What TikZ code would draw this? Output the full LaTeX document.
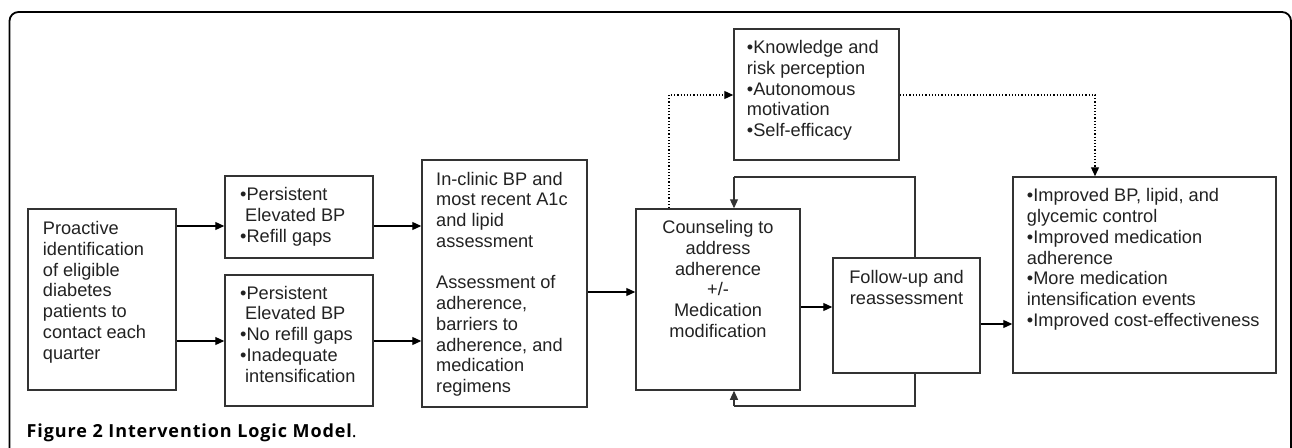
\documentclass[tikz,border=0pt]{standalone}
\usepackage{fontspec}
\setmainfont{Liberation Sans}
\newfontfamily\capfont{Open Sans}[LetterSpace=5]
\usetikzlibrary{arrows.meta}
\definecolor{boxline}{HTML}{333333}
\definecolor{txtcol}{HTML}{222222}
\begin{document}
\begin{tikzpicture}[x=1pt,y=-1pt,
  box/.style={draw=boxline,line width=1.5pt,inner sep=0pt,minimum width=#1},
  txt/.style={inner sep=0pt,text=txtcol,font=\fontsize{18.2}{20.75}\selectfont,align=left,anchor=north west},
  ctxt/.style={txt,align=center,anchor=north},
  arr/.style={draw=black,line width=1.2pt,-{Triangle[length=9pt,width=8pt]}},
  dotarr/.style={draw=black,line width=1.2pt,dotted,-{Triangle[length=9pt,width=8pt]}},
  fb/.style={draw=boxline,line width=1.5pt},
]
\useasboundingbox (0,0) rectangle (1292,447);
\clip (0,0) rectangle (1292,447);
\fill[white] (0,0) rectangle (1292,447);
% outer frame
\draw[black,line width=1.8pt,rounded corners=9pt] (9.5,470) -- (9.5,12) -- (1291,12) -- (1291,470);

% boxes
\node[box=148pt,minimum height=181pt] (b1) at (102,299.5) {};
\node[box=148pt,minimum height=82pt] (b2) at (299,217) {};
\node[box=148pt,minimum height=131pt] (b3) at (299,340.5) {};
\node[box=165pt,minimum height=247pt] (b4) at (504.5,283.5) {};
\node[box=164pt,minimum height=181pt] (b5) at (718,299.5) {};
\node[box=165pt,minimum height=131pt] (b6) at (816.5,94.5) {};
\node[box=147pt,minimum height=115pt] (b7) at (906.5,315.5) {};
\node[box=263pt,minimum height=196pt] (b8) at (1144.5,275) {};

% texts (baseline - 14.525 strut height)
\node[txt] (t1) at (42.7,219.8) {\strut Proactive\\identification\\of eligible\\diabetes\\patients to\\contact each\\quarter};
\node[txt] (t2) at (240,186.2) {\strut •Persistent\\\hspace{5pt}Elevated BP\\•Refill gaps};
\node[txt] (t3) at (240,284.5) {\strut •Persistent\\\hspace{5pt}Elevated BP\\•No refill gaps\\•Inadequate\\\hspace{5pt}intensification};
\node[txt] (t4) at (436,170.5) {\strut In-clinic BP and\\most recent A1c\\and lipid\\assessment\\\strut\\Assessment of\\adherence,\\barriers to\\adherence, and\\medication\\regimens};
\node[ctxt] (t5) at (718,218.8) {\strut Counseling to\\address\\adherence\\+/-\\Medication\\modification};
\node[txt] (t6) at (746.7,38.8) {\strut •Knowledge and\\risk perception\\•Autonomous\\motivation\\•Self-efficacy};
\node[ctxt] (t7) at (906.5,268.8) {\strut Follow-up and\\reassessment};
\node[txt] (t8) at (1026.7,187.2) {\strut •Improved BP, lipid, and\\glycemic control\\•Improved medication\\adherence\\•More medication\\intensification events\\•Improved cost-effectiveness};

% arrows
\draw[arr] (b1.east |- 0,226) -- (b2.west |- 0,226);
\draw[arr] (b1.east |- 0,341) -- (b3.west |- 0,341);
\draw[arr] (b2.east |- 0,226) -- (b4.west |- 0,226);
\draw[arr] (b3.east |- 0,341) -- (b4.west |- 0,341);
\draw[arr] (b4.east |- 0,292) -- (b5.west |- 0,292);
\draw[arr] (b5.east |- 0,307) -- (b7.west |- 0,307);
\draw[arr] (b7.east |- 0,324) -- (b8.west |- 0,324);

% dotted arrows
\draw[dotarr] (b5.north -| 669,0) -- (669,95) -- (b6.west |- 0,95);
\draw[dotarr] (b6.east |- 0,95) -- (1095,95) -- (b8.north -| 1095,0);

% feedback loop
\draw[fb] (b7.north -| 915,0) -- (915,177) -- (734,177);
\draw[arr,draw=boxline] (734,177) -- (b5.north -| 734,0);
\draw[fb] (b7.south -| 915,0) -- (915,406) -- (734,406);
\draw[arr,draw=boxline] (734,406) -- (b5.south -| 734,0);

% caption
\node[inner sep=0pt,anchor=base west,text=black] (cap) at (26.5,437)
  {\capfont\fontsize{18}{20}\selectfont\textbf{Figure 2 Intervention Logic Model}.};
\end{tikzpicture}
\end{document}
